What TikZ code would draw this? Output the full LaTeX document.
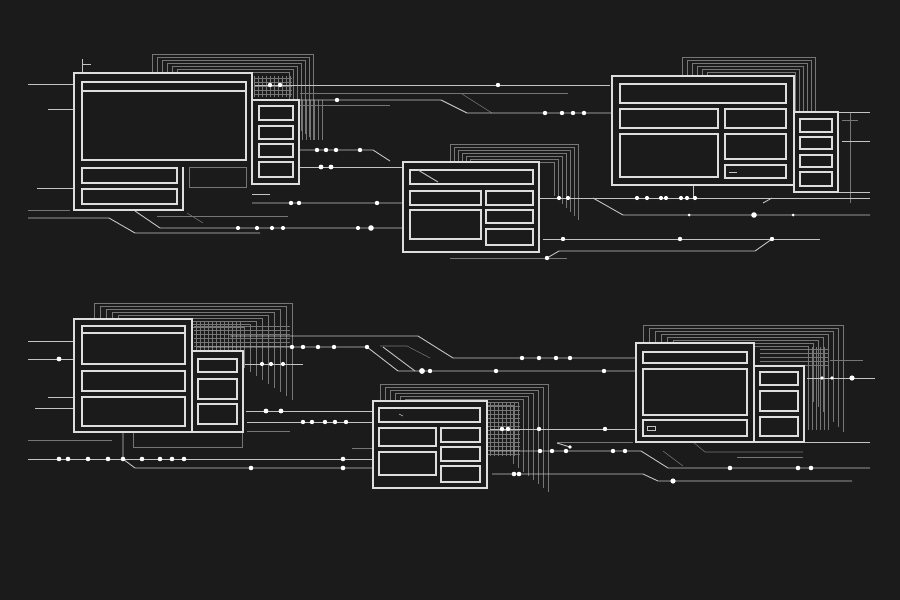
\documentclass[tikz,border=0pt]{standalone}
\definecolor{bgdark}{RGB}{27,27,27}
\definecolor{wline}{RGB}{222,222,222}
\definecolor{cline}{RGB}{195,195,195}
\definecolor{gline}{RGB}{118,118,118}
\tikzset{scene/.style={x=1pt,y=-1pt},
  frame/.style={draw=wline,line width=1.4pt},
  pane/.style={draw=wline,line width=1.1pt},
  wire/.style={draw=cline,line width=0.9pt},
  ghost/.style={draw=gline,line width=0.55pt},
  dot/.style={fill=white}}
\begin{document}
\begin{tikzpicture}[scene]
    \fill[bgdark] (0,0) rectangle (900,600);
    % nested frames behind the windows
    \foreach \i in {0,...,6} \draw[ghost] ({152+5*\i},73) |- ({313-4*\i},{54+3*\i}) -- ({313-4*\i},{140-3*\i});
    \foreach \i in {0,...,6} \draw[ghost] ({450+4*\i},162) |- ({578-4*\i},{144+3*\i}) -- ({578-4*\i},{220-4*\i});
    \foreach \i in {0,...,5} \draw[ghost] ({682+5*\i},76) |- ({815-4*\i},{57+3*\i}) -- ({815-4*\i},112);
    \foreach \i in {0,...,8} \draw[ghost] ({94+6*\i},319) |- ({292-6*\i},{303+3*\i}) -- ({292-6*\i},{400-4*\i});
    \foreach \i in {0,...,7} \draw[ghost] ({380+5*\i},401) |- ({548-5*\i},{384+3*\i}) -- ({548-5*\i},{492-4*\i});
    \foreach \i in {0,...,7} \draw[ghost] ({643+6*\i},343) |- ({843-5*\i},{325+3*\i}) -- ({843-5*\i},{432-5*\i});
    \foreach \x in {254,258,...,290} \draw[ghost] (\x,76) -- (\x,97);
    \foreach \y in {78,82,...,96} \draw[ghost] (254,\y) -- (292,\y);
    \foreach \x in {302,306,...,322} \draw[ghost] (\x,100) -- (\x,140);
    \foreach \x in {196,200,...,240} \draw[ghost] (\x,322) -- (\x,350);
    \foreach \y in {326,330,...,346} \draw[ghost] (194,\y) -- (290,\y);
    \foreach \x in {490,494,...,518} \draw[ghost] (\x,403) -- (\x,456);
    \foreach \y in {406,410,...,454} \draw[ghost] (488,\y) -- (520,\y);
    \foreach \y in {349,353,...,365} \draw[ghost] (760,\y) -- (828,\y);
    \foreach \x in {808,812,...,830} \draw[ghost] (\x,347) -- (\x,430);
    \draw[ghost] (133,432) |- (242,447) -- (242,432);
    \draw[ghost] (300,105) -- (390,105);
    \draw[ghost] (300,93) -- (568,93);
    \draw[ghost] (462,94) -- (492,113);
    \draw[ghost] (450,258) -- (567,258);
    \draw[ghost] (28,210) -- (70,210);
    \draw[ghost] (157,216) -- (288,216);
    \draw[ghost] (187,213) -- (203,223);
    \draw[ghost] (842,120) -- (858,120);
    \draw[ghost] (850,112) -- (850,203);
    \draw[ghost] (28,440) -- (112,440);
    \draw[ghost] (247,431) -- (290,431);
    \draw[ghost] (352,448) -- (373,448);
    \draw[ghost] (380,346) -- (407,346) -- (430,358);
    \draw[ghost] (663,451) -- (683,466);
    \draw[ghost] (830,360) -- (863,360);
    \draw[ghost] (693,442) -- (705,452) -- (803,452);
    \draw[ghost] (737,457) -- (803,457);
    \draw[ghost] (557,442) -- (633,442);
    % wires, top half
    \draw[wire] (28,84) -- (74,84);
    \draw[wire] (48,109) -- (74,109);
    \draw[wire] (37,188) -- (74,188);
    \draw[wire] (255,85) -- (610,85);
    \draw[wire] (300,100) -- (441,100) -- (467,113) -- (612,113);
    \draw[wire] (300,150) -- (373,150) -- (390,161);
    \draw[wire] (300,167) -- (403,167);
    \draw[wire] (183,194) -- (270,194);
    \draw[wire] (220,194) -- (238,203) -- (403,203);
    \draw[wire] (28,218) -- (109,218) -- (135,233) -- (260,233);
    \draw[wire] (135,211) -- (160,228) -- (403,228);
    \draw[wire] (540,198) -- (870,198);
    \draw[wire] (593,198) -- (623,215) -- (870,215);
    \draw[wire] (763,203) -- (772,198);
    \draw[wire] (543,239) -- (820,239);
    \draw[wire] (547,258) -- (559,251) -- (755,251) -- (772,239);
    \draw[wire] (838,112) -- (870,112);
    \draw[wire] (842,141) -- (870,141);
    \draw[wire] (838,192) -- (870,192);
    \draw[wire] (693,185) -- (693,198);
    \draw[wire] (82,59) -- (82,73);
    \draw[wire] (82,64) -- (91,64);
    \foreach \x in {270,280,498} \fill[dot] (\x,85) circle (2.2);
    \fill[dot] (337,100) circle (2.2);
    \foreach \x in {545,562,573,584} \fill[dot] (\x,113) circle (2.2);
    \foreach \x in {317,326,336,360} \fill[dot] (\x,150) circle (2.2);
    \foreach \x in {321,331} \fill[dot] (\x,167) circle (2.4);
    \foreach \x in {207,217,223} \fill[dot] (\x,194) circle (2.1);
    \foreach \x in {291,299,377} \fill[dot] (\x,203) circle (2.2);
    \foreach \x in {238,257,272,283,358} \fill[dot] (\x,228) circle (2.1);
    \fill[dot] (371,228) circle (2.8);
    \foreach \x in {559,568,637,647,661,666,681,687,695} \fill[dot] (\x,198) circle (2.1);
    \foreach \x in {689,793} \fill[dot] (\x,215) circle (1.5);
    \fill[dot] (754,215) circle (2.8);
    \foreach \x in {563,680,772} \fill[dot] (\x,239) circle (2.2);
    \fill[dot] (547,258) circle (2.2);
    % wires, bottom half
    \draw[wire] (28,341) -- (74,341);
    \draw[wire] (28,359) -- (74,359);
    \draw[wire] (48,397) -- (74,397);
    \draw[wire] (35,408) -- (74,408);
    \draw[wire] (28,459) -- (372,459);
    \draw[wire] (123,432) -- (123,459) -- (135,468) -- (372,468);
    \draw[wire] (197,347) -- (367,347) -- (398,371) -- (635,371);
    \draw[wire] (383,347) -- (415,371);
    \draw[wire] (230,336) -- (418,336) -- (453,358) -- (635,358);
    \draw[wire] (245,364) -- (303,364);
    \draw[wire] (246,411) -- (372,411);
    \draw[wire] (247,422) -- (372,422);
    \draw[wire] (490,429) -- (635,429);
    \draw[wire] (490,451) -- (641,451) -- (668,468) -- (870,468);
    \draw[wire] (557,443) -- (570,447);
    \draw[wire] (492,474) -- (643,474) -- (658,481) -- (852,481);
    \draw[wire] (807,378) -- (875,378);
    \draw[wire] (804,442) -- (870,442);
    \fill[dot] (59,359) circle (2.4);
    \foreach \x in {59,68,88,108,123,142,160,172,184,343} \fill[dot] (\x,459) circle (2.3);
    \foreach \x in {251,343} \fill[dot] (\x,468) circle (2.3);
    \foreach \x in {292,303,318,334,367} \fill[dot] (\x,347) circle (2.2);
    \fill[dot] (422,371) circle (2.9);
    \foreach \x in {430,496,604} \fill[dot] (\x,371) circle (2.2);
    \foreach \x in {522,539,556,570} \fill[dot] (\x,358) circle (2.2);
    \foreach \x in {262,271,283} \fill[dot] (\x,364) circle (2.1);
    \foreach \x in {266,281} \fill[dot] (\x,411) circle (2.4);
    \foreach \x in {303,312,325,335,346} \fill[dot] (\x,422) circle (2.2);
    \foreach \x in {502,508,539,605} \fill[dot] (\x,429) circle (2.2);
    \foreach \x in {540,552,566,613,625} \fill[dot] (\x,451) circle (2.2);
    \fill[dot] (570,447) circle (1.9);
    \foreach \x in {730,798,811} \fill[dot] (\x,468) circle (2.3);
    \foreach \x in {514,519} \fill[dot] (\x,474) circle (2.3);
    \fill[dot] (673,481) circle (2.6);
    \foreach \x in {822,832} \fill[dot] (\x,378) circle (1.9);
    \fill[dot] (852,378) circle (2.6);
    % window 1
    \fill[bgdark] (74,73) rectangle (252,210);
    \draw[frame] (183,167) -- (183,210) -- (74,210) -- (74,73) -- (252,73) -- (252,184);
    \draw[frame,fill=bgdark] (252,100) rectangle (299,184);
    \draw[pane] (82,82) rectangle (246,91) (82,91) rectangle (246,160);
    \draw[pane] (82,168) rectangle (177,183) (82,189) rectangle (177,204);
    \draw[ghost,line width=0.8pt] (189,167) rectangle (246,187);
    \foreach \a/\b in {106/120,126/139,144/157,162/177} \draw[pane] (259,\a) rectangle (293,\b);
    % window 2
    \draw[frame,fill=bgdark] (403,162) rectangle (539,252);
    \draw[pane] (410,170) rectangle (533,184) (410,191) rectangle (481,205) (410,210) rectangle (481,239);
    \draw[pane] (486,191) rectangle (533,205) (486,210) rectangle (533,223) (486,229) rectangle (533,245);
    \draw[wire] (418,170) -- (438,182);
    % window 3
    \draw[frame,fill=bgdark] (612,76) rectangle (794,185);
    \draw[frame,fill=bgdark] (794,112) rectangle (838,192);
    \draw[pane] (620,84) rectangle (786,103) (620,109) rectangle (718,128) (620,134) rectangle (718,177);
    \draw[pane] (725,109) rectangle (786,128) (725,134) rectangle (786,159) (725,165) rectangle (786,178);
    \draw[wire] (729,172) -- (737,172);
    \foreach \a/\b in {119/132,137/149,155/167,172/186} \draw[pane] (800,\a) rectangle (832,\b);
    % window 4
    \draw[frame,fill=bgdark] (74,319) rectangle (192,432);
    \draw[frame,fill=bgdark] (192,351) rectangle (243,432);
    \draw[pane] (82,326) rectangle (185,333) (82,333) rectangle (185,364);
    \draw[pane] (82,371) rectangle (185,391) (82,397) rectangle (185,426);
    \foreach \a/\b in {359/372,379/399,404/424} \draw[pane] (198,\a) rectangle (237,\b);
    % window 5
    \draw[frame,fill=bgdark] (373,401) rectangle (487,488);
    \draw[pane] (379,408) rectangle (480,422) (379,428) rectangle (436,446) (379,452) rectangle (436,475);
    \draw[pane] (441,428) rectangle (480,442) (441,447) rectangle (480,461) (441,466) rectangle (480,482);
    \draw[ghost,draw=cline] (399,414) -- (403,416);
    % window 6
    \draw[frame,fill=bgdark] (636,343) rectangle (754,442);
    \draw[frame,fill=bgdark] (754,366) rectangle (804,442);
    \draw[pane] (643,352) rectangle (747,363) (643,369) rectangle (747,415) (643,420) rectangle (747,436);
    \draw[ghost,draw=cline] (647,426) rectangle (655,430);
    \foreach \a/\b in {372/385,391/411,417/436} \draw[pane] (760,\a) rectangle (798,\b);
\end{tikzpicture}
\end{document}
